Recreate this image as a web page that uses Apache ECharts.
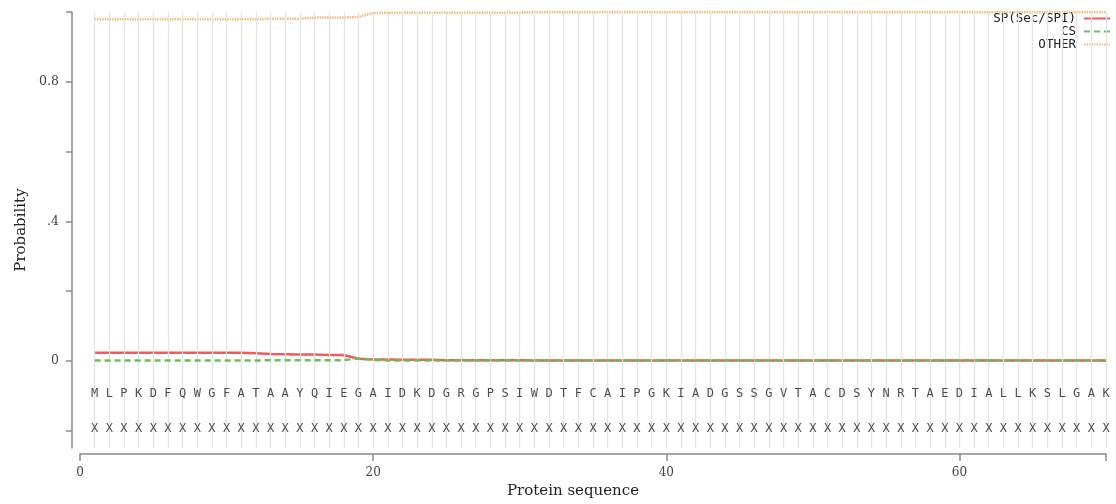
<!DOCTYPE html>
<html>
<head>
<meta charset="utf-8">
<script src="https://cdn.jsdelivr.net/npm/echarts@6/dist/echarts.min.js"></script>
<style>html,body{margin:0;padding:0;background:#fff}#c{width:1116px;height:504px}</style>
</head>
<body>
<div id="c"></div>
<script>
// ---- data ----
const sequence = "MLPKDFQWGFATAAYQIEGAIDKDGRGPSIWDTFCAIPGKIADGSSGVTACDSYNRTAEDIALLKSLGAK";
const annotation = "XXXXXXXXXXXXXXXXXXXXXXXXXXXXXXXXXXXXXXXXXXXXXXXXXXXXXXXXXXXXXXXXXXXXXX";
const seriesNames = ["SP(Sec/SPI)", "CS", "OTHER"];
const spValues = [
  0.023,0.023,0.023,0.023,0.023,0.023,0.023,0.023,0.023,0.023,
  0.023,0.022,0.020,0.019,0.018,0.018,0.017,0.017,0.006,0.004,
  0.004,0.003,0.003,0.003,0.002,0.002,0.002,0.002,0.002,0.002,
  0.001,0.001,0.001,0.001,0.001,0.001,0.001,0.001,0.001,0.001,
  0.001,0.001,0.001,0.001,0.001,0.001,0.001,0.001,0.001,0.001,
  0.001,0.001,0.001,0.001,0.001,0.001,0.001,0.001,0.001,0.001,
  0.001,0.001,0.001,0.001,0.001,0.001,0.001,0.001,0.001,0.001
];
const csValues = [
  0.001,0.001,0.001,0.001,0.001,0.001,0.001,0.001,0.001,0.001,
  0.001,0.001,0.002,0.002,0.002,0.002,0.002,0.002,0.007,0.003,
  0.001,0.001,0.001,0.001,0.001,0.001,0.001,0.001,0.001,0.001,
  0.001,0.001,0.001,0.001,0.001,0.001,0.001,0.001,0.001,0.001,
  0.001,0.001,0.001,0.001,0.001,0.001,0.001,0.001,0.001,0.001,
  0.001,0.001,0.001,0.001,0.001,0.001,0.001,0.001,0.001,0.001,
  0.001,0.001,0.001,0.001,0.001,0.001,0.001,0.001,0.001,0.001
];
const otherValues = [
  0.979,0.979,0.979,0.979,0.979,0.979,0.979,0.979,0.979,0.979,
  0.979,0.979,0.981,0.981,0.981,0.984,0.984,0.984,0.986,0.997,
  0.998,0.998,0.998,0.998,0.998,0.998,0.998,0.998,0.998,0.998,
  0.999,0.999,0.999,0.999,0.999,0.999,0.999,0.999,0.999,0.999,
  0.999,0.999,0.999,0.999,0.999,0.999,0.999,0.999,0.999,0.999,
  0.999,0.999,0.999,0.999,0.999,0.999,0.999,0.999,0.999,0.999,
  0.999,0.999,0.999,0.999,0.999,0.999,0.999,0.999,0.999,0.999
];
const xTickValues = [0, 20, 40, 60, 70];
const xLabelValues = [0, 20, 40, 60];
const yTickValues = [-0.2, 0, 0.2, 0.4, 0.6, 0.8, 1.0];
const yLabelValues = [0, 0.4, 0.8];
const yLabelText = {"0": "0", "0.4": ".4", "0.8": "0.8"};
const seqRowY = -0.096;
const annRowY = -0.196;

// ---- build ----
const positions = sequence.split('').map((c, i) => i + 1);
const pair = vals => positions.map((p, i) => [p, vals[i]]);
const serif = "DejaVu Serif";
const mono = "DejaVu Sans Mono";
const axisGray = '#8a8a8a';
const letterLabel = {show: true, position: 'inside', formatter: d => d.name, fontFamily: mono, fontSize: 12, color: '#222'};

const chart = echarts.init(document.getElementById('c'), null, {renderer: 'canvas'});
chart.setOption({
  animation: false,
  backgroundColor: '#fff',
  grid: {left: 80, right: 10, top: 12, bottom: 54},
  legend: {
    data: seriesNames,
    orient: 'vertical',
    right: 0,
    top: 7,
    align: 'right',
    itemWidth: 26,
    itemHeight: 11,
    itemGap: 0,
    selectedMode: false,
    itemStyle: {color: 'rgba(0,0,0,0)', borderColor: 'rgba(0,0,0,0)', borderWidth: 0},
    textStyle: {fontFamily: mono, fontSize: 12.5, color: '#222', lineHeight: 12, padding: [0, 3, 0, 0]}
  },
  xAxis: {
    type: 'value', min: 0, max: 70, offset: 6,
    name: 'Protein sequence', nameLocation: 'middle', nameGap: 29,
    nameTextStyle: {fontFamily: serif, fontSize: 15, color: '#222', padding: [0, 40, 0, 0]},
    axisLine: {show: true, onZero: false, lineStyle: {color: axisGray, width: 1.5}},
    axisTick: {show: true, length: 7, customValues: xTickValues, lineStyle: {color: axisGray, width: 1.5}},
    axisLabel: {customValues: xLabelValues, margin: 13, fontFamily: serif, fontSize: 12, color: '#444'},
    splitLine: {show: false}
  },
  yAxis: {
    type: 'value', min: -0.25, max: 1.0, offset: 8,
    name: 'Probability', nameLocation: 'middle', nameGap: 42,
    nameTextStyle: {fontFamily: serif, fontSize: 15, color: '#222'},
    axisLine: {show: true, onZero: false, lineStyle: {color: axisGray, width: 1.5}},
    axisTick: {show: true, length: 6, customValues: yTickValues, lineStyle: {color: axisGray, width: 1.5}},
    axisLabel: {customValues: yLabelValues, margin: 13, fontFamily: serif, fontSize: 12.5, color: '#444',
      formatter: v => yLabelText[String(Math.round(v * 10) / 10)] ?? ''},
    splitLine: {show: false}
  },
  series: [
    {
      name: 'grid', type: 'line', silent: true, data: [], z: 0,
      markLine: {
        silent: true, symbol: ['none', 'none'], label: {show: false},
        lineStyle: {color: '#e4e4e4', width: 1.3, type: 'solid'},
        data: positions.map(p => ({xAxis: p}))
      }
    },
    {
      name: 'seq', type: 'scatter', silent: true, symbolSize: 1,
      itemStyle: {color: 'rgba(0,0,0,0)'},
      data: positions.map((p, i) => ({value: [p, seqRowY], name: sequence[i]})),
      label: letterLabel, z: 10
    },
    {
      name: 'ann', type: 'scatter', silent: true, symbolSize: 1,
      itemStyle: {color: 'rgba(0,0,0,0)'},
      data: positions.map((p, i) => ({value: [p, annRowY], name: annotation[i]})),
      label: letterLabel, z: 10
    },
    {
      name: seriesNames[2], type: 'line', data: pair(otherValues), showSymbol: false, symbol: 'none',
      color: '#f8b878',
      lineStyle: {color: '#f8b878', width: 2.5, type: [1.5, 1]}, z: 3
    },
    {
      name: seriesNames[0], type: 'line', data: pair(spValues), showSymbol: false, symbol: 'none',
      color: '#ef5b5b',
      lineStyle: {color: '#ef5b5b', width: 2.5, type: 'solid'}, z: 4
    },
    {
      name: seriesNames[1], type: 'line', data: pair(csValues), showSymbol: false, symbol: 'none',
      color: '#6cbd56',
      lineStyle: {color: '#6cbd56', width: 2.5, type: [6, 4]}, z: 5
    }
  ]
});
</script>
</body>
</html>
